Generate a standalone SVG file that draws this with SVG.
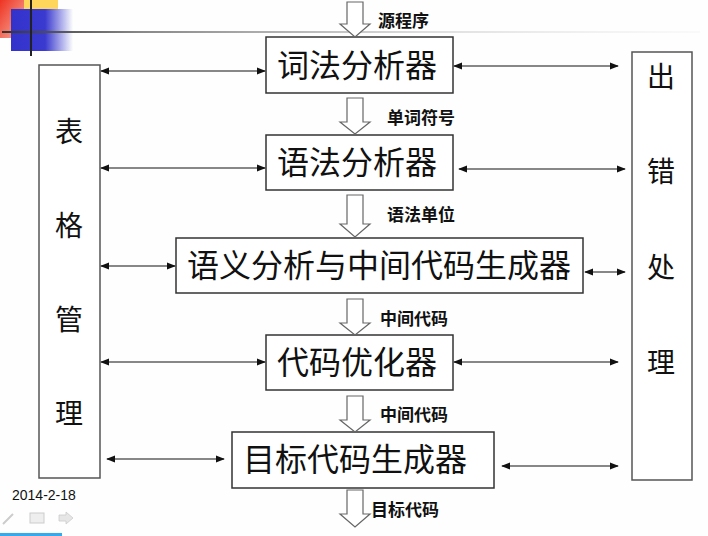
<svg xmlns="http://www.w3.org/2000/svg" width="708" height="536" viewBox="0 0 708 536">
<defs>
<linearGradient id="blueFade" x1="0" x2="1" y1="0" y2="0">
<stop offset="0" stop-color="#3333cc"/>
<stop offset="0.55" stop-color="#3a3ad0"/>
<stop offset="1" stop-color="#3a3ad0" stop-opacity="0"/>
</linearGradient>
<linearGradient id="redFade" x1="0" x2="1" y1="0" y2="1">
<stop offset="0" stop-color="#ee3322"/>
<stop offset="1" stop-color="#f7b0a0"/>
</linearGradient>
<linearGradient id="lineFade" x1="0" x2="1" y1="0" y2="0">
<stop offset="0" stop-color="#333"/>
<stop offset="0.2" stop-color="#888"/>
<stop offset="0.6" stop-color="#ddd"/>
<stop offset="1" stop-color="#eee" stop-opacity="0.3"/>
</linearGradient>
<marker id="ah" viewBox="0 0 10 10" refX="9" refY="5" markerWidth="9" markerHeight="9" markerUnits="userSpaceOnUse" orient="auto-start-reverse">
<path d="M0,1 L10,5 L0,9 z" fill="#111"/>
</marker>
</defs>
<style>
.box{fill:#fff;stroke:#333;stroke-width:1.5}
.side{fill:#fff;stroke:#555;stroke-width:1.5}
.bt{font-family:"Noto Sans CJK SC","Noto Sans CJK JP",sans-serif;font-size:32px;fill:#111;text-anchor:middle;dominant-baseline:central}
.vt{font-family:"Noto Sans CJK SC","Noto Sans CJK JP",sans-serif;font-size:28px;fill:#111;text-anchor:middle;dominant-baseline:central}
.lbl{font-family:"Noto Sans CJK SC","Noto Sans CJK JP",sans-serif;font-size:17px;font-weight:bold;fill:#111;dominant-baseline:central}
.conn{stroke:#111;stroke-width:1.2;fill:none;marker-start:url(#ah);marker-end:url(#ah)}
.flow{fill:#fff;stroke:#666;stroke-width:1.2}
</style>
<rect width="708" height="536" fill="#fdfefd"/>
<g id="decor">
<rect x="0" y="0" width="58" height="9" fill="#ffcc33" opacity="0.8"/>
<rect x="0" y="0" width="24" height="38" fill="url(#redFade)"/>
<rect x="11" y="9" width="62" height="42" fill="url(#blueFade)"/>
<rect x="2" y="31" width="698" height="2" fill="url(#lineFade)"/>
<rect x="30" y="0" width="2" height="56" fill="#222"/>
</g>
<g id="table-mgmt">
<rect class="side" x="39" y="65" width="61" height="413"/>
<text class="vt" x="69" y="130">表</text>
<text class="vt" x="69" y="224">格</text>
<text class="vt" x="69" y="318">管</text>
<text class="vt" x="69" y="412">理</text>
</g>
<g id="error-handling">
<rect class="side" x="632" y="52" width="60" height="428"/>
<text class="vt" x="661" y="75">出</text>
<text class="vt" x="661" y="170">错</text>
<text class="vt" x="661" y="266">处</text>
<text class="vt" x="661" y="361">理</text>
</g>
<g id="lexer">
<rect class="box" x="266" y="37" width="187" height="56"/>
<text class="bt" x="357" y="63">词法分析器</text>
</g>
<g id="parser">
<rect class="box" x="266" y="135" width="187" height="55"/>
<text class="bt" x="357" y="160">语法分析器</text>
</g>
<g id="semantic">
<rect class="box" x="176" y="238" width="407" height="55"/>
<text class="bt" x="379" y="263">语义分析与中间代码生成器</text>
</g>
<g id="optimizer">
<rect class="box" x="266" y="335" width="187" height="55"/>
<text class="bt" x="357" y="360">代码优化器</text>
</g>
<g id="codegen">
<rect class="box" x="232" y="432" width="262" height="56"/>
<text class="bt" x="355" y="457">目标代码生成器</text>
</g>
<g id="connectors">
<line class="conn" x1="101" y1="71" x2="265" y2="71"/>
<line class="conn" x1="101" y1="168" x2="265" y2="168"/>
<line class="conn" x1="101" y1="266" x2="175" y2="266"/>
<line class="conn" x1="101" y1="362" x2="265" y2="362"/>
<line class="conn" x1="107" y1="459" x2="224" y2="459"/>
<line class="conn" x1="454" y1="66" x2="618" y2="66"/>
<line class="conn" x1="459" y1="169" x2="625" y2="169"/>
<line class="conn" x1="585" y1="272" x2="625" y2="272"/>
<line class="conn" x1="454" y1="362" x2="618" y2="362"/>
<line class="conn" x1="502" y1="466" x2="618" y2="466"/>
<path class="flow" d="M347,2 L363,2 L363,24 L370,24 L355,37 L340,24 L347,24 z"/>
<path class="flow" d="M347,98 L363,98 L363,122 L370,122 L355,134 L340,122 L347,122 z"/>
<path class="flow" d="M347,195 L363,195 L363,224 L370,224 L355,237 L340,224 L347,224 z"/>
<path class="flow" d="M347,299 L363,299 L363,323 L370,323 L355,335 L340,323 L347,323 z"/>
<path class="flow" d="M347,396 L363,396 L363,420 L370,420 L355,432 L340,420 L347,420 z"/>
<path class="flow" d="M347,490 L363,490 L363,514 L370,514 L355,527 L340,514 L347,514 z"/>
<text class="lbl" x="378" y="19">源程序</text>
<text class="lbl" x="387" y="116">单词符号</text>
<text class="lbl" x="387" y="213">语法单位</text>
<text class="lbl" x="380" y="317">中间代码</text>
<text class="lbl" x="380" y="413">中间代码</text>
<text class="lbl" x="371" y="508">目标代码</text>
</g>
<g id="footer">
<text x="12" y="500" font-family="Liberation Sans, Arial, sans-serif" font-size="14" fill="#111">2014-2-18</text>
<path d="M3,524 L13,514" stroke="#ccc" stroke-width="2"/>
<rect x="30" y="513" width="14" height="10" fill="#eee" stroke="#ccc"/>
<path d="M59,515 L66,515 L66,512 L73,518 L66,524 L66,521 L59,521 z" fill="#e6e6e6" stroke="#ccc" stroke-width="0.8"/>
<rect x="0" y="533" width="62" height="3" fill="#33aaee"/>
</g>
</svg>
